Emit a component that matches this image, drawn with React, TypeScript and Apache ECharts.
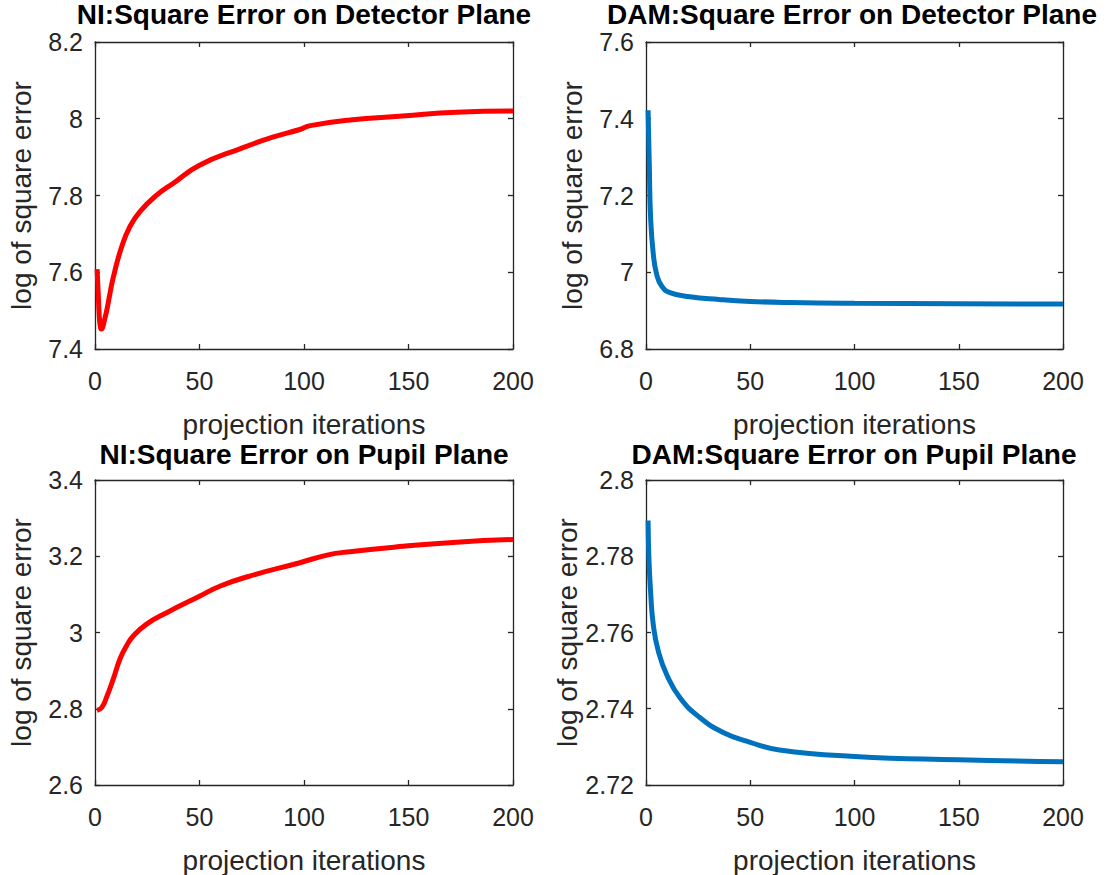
import React, { useEffect, useRef } from "react";
import * as echarts from "echarts";

const titles = [
  "NI:Square Error on Detector Plane",
  "DAM:Square Error on Detector Plane",
  "NI:Square Error on Pupil Plane",
  "DAM:Square Error on Pupil Plane",
];
const xAxisName = "projection iterations";
const yAxisName = "log of square error";

const xTicks = { min: 0, max: 200, interval: 50 };
const yRanges = [
  { min: 7.4, max: 8.2, interval: 0.2 },
  { min: 6.8, max: 7.6, interval: 0.2 },
  { min: 2.6, max: 3.4, interval: 0.2 },
  { min: 2.72, max: 2.8, interval: 0.02 },
];

const niDetX = [1, 1.5, 2, 2.5, 3, 3.7, 4.5, 5.6, 7, 8.8, 12.8, 16.7, 21.5, 29.5, 37.5, 50, 70, 85, 98, 103, 122, 147, 173, 200];
const niDetY = [7.608, 7.55, 7.49, 7.46, 7.452, 7.457, 7.475, 7.5, 7.54, 7.588, 7.667, 7.719, 7.758, 7.801, 7.832, 7.879, 7.923, 7.952, 7.972, 7.982, 7.997, 8.007, 8.017, 8.02];

const damDetX = [1, 1.6, 2.2, 3.5, 5.1, 7.5, 11.5, 21, 35, 50, 69, 100, 150, 200];
const damDetY = [7.422, 7.274, 7.143, 7.047, 6.995, 6.964, 6.947, 6.936, 6.929, 6.924, 6.921, 6.919, 6.918, 6.917];

const niPupX = [1, 3.2, 5.6, 8.8, 12, 15.2, 18.3, 24.7, 34.3, 50, 60, 74, 98, 111, 122, 147.5, 173, 200];
const niPupY = [2.796, 2.803, 2.831, 2.879, 2.931, 2.966, 2.991, 3.022, 3.052, 3.095, 3.122, 3.148, 3.183, 3.203, 3.212, 3.226, 3.237, 3.244];

const damPupX = [1, 1.4, 2.2, 3.5, 5.9, 9.9, 16.3, 25.8, 37, 50, 64, 100, 150, 200];
const damPupY = [2.7894, 2.7794, 2.7707, 2.762, 2.7551, 2.749, 2.7429, 2.7377, 2.7338, 2.7312, 2.7292, 2.7275, 2.7266, 2.7261];

const seriesX = [niDetX, damDetX, niPupX, damPupX];
const seriesY = [niDetY, damDetY, niPupY, damPupY];
const seriesColors = ["#FF0000", "#0072BD", "#FF0000", "#0072BD"];

const FONT = "'Liberation Sans', Arial, Helvetica, sans-serif";
const AXIS_COLOR = "#262626";

export default function App() {
  const ref = useRef<HTMLDivElement>(null);

  useEffect(() => {
    if (!ref.current) return;
    const chart = echarts.init(ref.current, undefined, { renderer: "svg" });

    const grids = [
      { left: 95, top: 42, width: 418, height: 307 },
      { left: 646, top: 42, width: 417, height: 307 },
      { left: 95, top: 480, width: 418, height: 308 },
      { left: 646, top: 480, width: 417, height: 308 },
    ];
    const titleCenters = [304, 852, 304, 854];

    const fmt = (v: number) => String(parseFloat(v.toFixed(4)));
    const lineStyle = { color: AXIS_COLOR, width: 1.3 };

    const xAxes: any[] = [];
    const yAxes: any[] = [];
    grids.forEach((g, i) => {
      xAxes.push({
        type: "value",
        gridIndex: i,
        position: "bottom",
        ...xTicks,
        name: xAxisName,
        nameLocation: "middle",
        nameGap: 61,
        nameTextStyle: { fontFamily: FONT, fontSize: 28, color: AXIS_COLOR },
        axisLine: { show: true, onZero: false, lineStyle },
        axisTick: { show: true, inside: true, length: 5, lineStyle },
        axisLabel: { fontFamily: FONT, fontSize: 25, lineHeight: 20, color: AXIS_COLOR, margin: 22, formatter: fmt },
        splitLine: { show: false },
      });
      xAxes.push({
        type: "value",
        gridIndex: i,
        position: "top",
        ...xTicks,
        axisLine: { show: true, onZero: false, lineStyle },
        axisTick: { show: true, inside: true, length: 5, lineStyle },
        axisLabel: { show: false },
        splitLine: { show: false },
      });
      yAxes.push({
        type: "value",
        gridIndex: i,
        position: "left",
        ...yRanges[i],
        name: yAxisName,
        nameLocation: "middle",
        nameGap: 60,
        nameTextStyle: { fontFamily: FONT, fontSize: 28, color: AXIS_COLOR },
        axisLine: { show: true, onZero: false, lineStyle },
        axisTick: { show: true, inside: true, length: 5, lineStyle },
        axisLabel: { fontFamily: FONT, fontSize: 25, lineHeight: 20, color: AXIS_COLOR, margin: 12, formatter: fmt },
        splitLine: { show: false },
      });
      yAxes.push({
        type: "value",
        gridIndex: i,
        position: "right",
        ...yRanges[i],
        axisLine: { show: true, onZero: false, lineStyle },
        axisTick: { show: true, inside: true, length: 5, lineStyle },
        axisLabel: { show: false },
        splitLine: { show: false },
      });
    });

    const option: any = {
      animation: false,
      backgroundColor: "#ffffff",
      title: titles.map((t, i) => ({
        text: t,
        left: titleCenters[i],
        top: i < 2 ? 1 : 441,
        textAlign: "center",
        padding: 0,
        textStyle: { fontFamily: FONT, fontSize: 28, lineHeight: 26, fontWeight: "bold", color: "#000000" },
      })),
      grid: grids.map((g) => ({ ...g, show: false, containLabel: false })),
      xAxis: xAxes,
      yAxis: yAxes,
      series: seriesX.map((xs, i) => ({
        type: "line",
        xAxisIndex: i * 2,
        yAxisIndex: i * 2,
        data: xs.map((x, j) => [x, seriesY[i][j]]),
        showSymbol: false,
        smooth: 0.5,
        lineStyle: { color: seriesColors[i], width: 5 },
        itemStyle: { color: seriesColors[i] },
      })),
    };

    chart.setOption(option);
    return () => chart.dispose();
  }, []);

  return (
    <div
      ref={ref}
      style={{ position: "absolute", left: 0, top: 0, width: 1112, height: 875, background: "#fff" }}
    />
  );
}
